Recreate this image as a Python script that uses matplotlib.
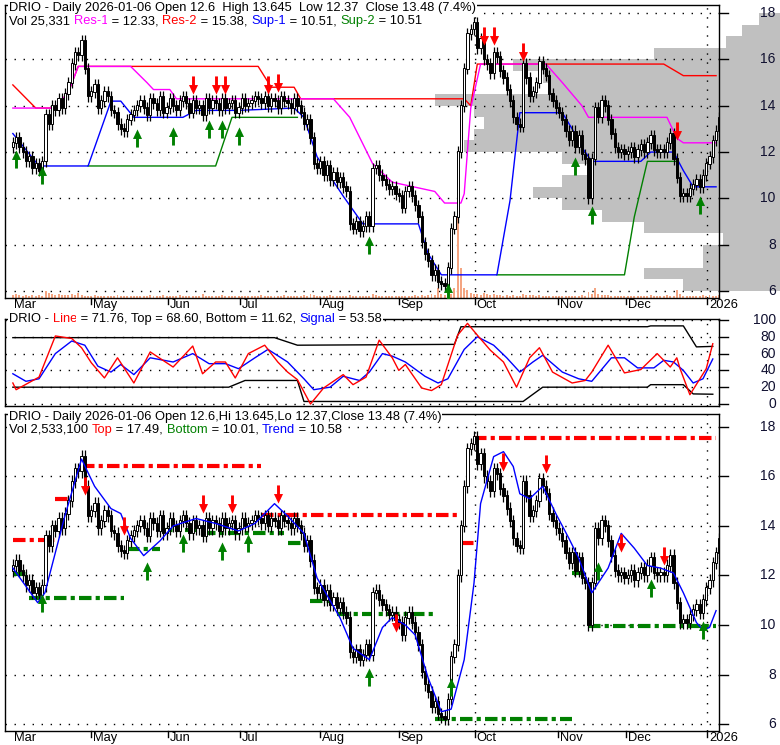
import numpy as np
import matplotlib
matplotlib.use("Agg")
import matplotlib.pyplot as plt
from matplotlib.path import Path

plt.rcParams['font.family'] = ['Liberation Sans', 'DejaVu Sans']

# ---------------- data ----------------
closes = [12.4,12.6,12.2,12.0,11.6,11.8,11.3,11.5,11.2,11.6,
          13.6,13.2,14.0,13.8,14.3,13.9,
          14.5,15.0,15.8,16.3,16.2,16.8,15.6,
          14.4,14.6,14.9,13.9,14.2,14.6,14.4,
          13.8,13.7,13.2,13.0,12.9,13.4,13.6,13.8,14.0,
          14.2,13.9,13.6,14.3,14.1,13.8,14.4,13.7,13.9,14.3,14.0,13.8,14.2,14.4,14.1,
          13.7,14.2,13.9,14.0,13.6,14.3,13.9,14.2,14.1,13.8,14.3,13.9,14.1,14.2,13.7,13.9,14.3,14.0,
          14.1,14.2,14.4,14.3,14.1,14.4,14.0,14.3,14.2,13.9,14.4,14.2,14.1,13.9,14.3,14.0,13.7,
          13.2,13.4,12.6,11.5,11.3,11.6,11.0,11.4,10.8,11.1,10.7,10.9,10.5,10.3,
          8.9,8.7,9.0,8.6,8.8,9.2,8.8,11.3,11.4,11.0,10.8,10.6,10.4,10.5,10.2,
          10.1,9.6,10.3,10.5,10.1,9.7,9.2,8.1,7.6,7.3,6.7,6.9,6.4,6.3,6.2,
          7.0,8.7,9.2,12.0,14.0,15.6,17.1,17.3,17.6,
          16.5,16.9,16.0,15.8,15.4,16.3,16.1,15.5,15.2,14.7,14.2,13.5,13.2,13.1,
          15.8,15.2,14.4,14.6,15.0,15.9,15.6,15.3,14.5,14.2,13.9,13.7,13.4,12.9,
          12.5,12.9,12.2,12.7,11.9,11.7,10.0,11.7,13.9,13.5,14.2,14.0,
          13.4,12.8,12.2,12.0,12.1,11.9,12.0,12.2,11.8,12.1,12.3,12.0,12.4,12.7,12.1,12.0,12.1,12.0,
          12.4,12.8,11.7,10.9,10.1,10.2,10.1,10.4,10.6,10.8,10.5,11.0,11.5,11.8,12.5,12.9,13.48]
first_open = 12.2

volumes = [3,4,3,2,3,2,3,2,3,2,
           7,5,4,3,4,3,
           3,3,4,3,5,3,2,
           2,2,3,2,2,2,2,
           2,2,3,2,2,2,2,2,2,
           2,2,2,3,2,2,2,3,2,2,2,2,3,2,2,
           2,2,2,2,4,2,2,2,2,2,3,2,2,2,2,2,2,2,
           2,2,2,2,3,2,2,2,2,2,2,3,2,2,2,2,2,
           3,2,4,3,2,2,2,2,3,2,2,2,2,2,
           3,2,2,2,2,2,2,4,3,2,2,2,2,2,2,
           2,2,2,2,2,3,2,3,2,3,4,3,10,4,3,
           15,4,10,80,30,10,8,5,4,
           4,3,5,4,3,4,3,3,2,3,2,3,2,2,
           4,3,3,3,2,3,2,2,2,2,2,2,2,2,
           2,2,2,2,3,2,6,4,10,4,3,3,
           3,2,2,2,2,2,2,2,2,2,2,2,2,3,2,2,2,2,
           3,2,2,8,4,2,2,2,2,2,2,3,2,3,2,2,3]

res1_x = [0,13,17,20,36,41,43,48,50,98,103,110,116,129,132,137,138,140,143,163,168,174,176,200,203,205,215]
res1_y = [13.9,13.9,14.6,15.7,15.7,15.0,14.7,14.7,14.3,14.3,13.5,11.5,10.7,10.3,9.8,9.8,10.2,13.9,15.8,15.8,15.0,14.0,13.5,13.5,12.6,12.4,12.4]
res2_x = [0,7,13,17,20,75,79,86,88,138,140,142,199,205,215]
res2_y = [14.9,13.9,13.9,14.6,15.7,15.7,14.8,14.8,14.3,14.3,14.0,15.8,15.8,15.3,15.3]
sup1_x = [0,8,23,30,33,37,52,56,67,69,86,89,93,101,107,124,127,131,148,152,155,168,171,174,177,192,195,202,205,208,215]
sup1_y = [12.8,11.4,11.4,14.2,14.2,13.5,13.5,13.8,13.8,13.8,13.9,13.5,11.8,10.1,8.9,8.9,7.6,6.7,6.7,9.9,13.7,13.7,13.0,12.2,11.6,11.6,12.0,12.0,11.2,10.5,10.5]
sup2_x = [23,62,67,87]
sup2_y = [11.4,11.4,13.5,13.5]
sup2b_x = [148,187,190,194,203]
sup2b_y = [6.7,6.7,9.2,11.6,11.6]

prof_price = [17.75,17.25,16.75,16.25,15.75,15.25,14.75,14.25,13.75,13.25,12.75,12.25,
              11.75,11.25,10.75,10.25,9.75,9.25,8.75,8.25,7.75,7.25,6.75,6.25]
prof_left = [228,223,218,196,153,162,164,129,141,144,141,138,
             168,177,168,159,168,180,193,217,211,211,193,205]

top_red_arrows = [(55,14.9),(62,14.9),(65,14.9),(78,14.9),(81,15.0),(144,17.0),(147,17.0),(156,16.3),(203,12.9)]
top_green_arrows = [(1,11.7),(9,11.0),(38,12.6),(49,12.7),(60,13.0),(64,13.0),(69,12.7),(109,8.0),(133,5.95),(172,11.4),(177,9.3),(210,9.7)]

osc_line_x = [0,1,8,13,18,21,24,28,32,37,42,49,55,58,62,65,68,72,77,81,84,87,91,95,101,104,108,112,116,118,120,125,128,131,136,139,142,146,150,154,158,161,165,171,175,177,182,187,192,197,201,203,204,207,212,214]
osc_line_y = [25,17,32,81,78,67,49,31,55,25,62,44,69,36,50,50,31,60,70,50,38,29,0,19,35,23,32,76,55,40,47,19,16,23,82,96,82,64,50,20,55,67,38,25,28,38,70,37,41,60,44,55,42,11,42,71.76]
osc_sig_x = [0,4,8,13,18,22,26,30,33,37,42,49,55,60,65,69,74,78,84,89,92,97,101,106,109,113,116,120,126,130,133,138,142,147,151,155,159,162,168,173,177,183,187,191,196,199,202,205,208,211,214]
osc_sig_y = [36,27,30,60,75,70,45,38,47,35,55,50,60,48,48,42,55,65,50,30,17,20,33,28,38,60,57,50,33,25,30,65,80,70,55,38,50,58,38,30,27,55,55,43,43,52,50,40,25,30,53.58]
band_top_x = [0,80,87,135,137,194,195,205,209,214]
band_top_y = [79,79,70,71,92,92,93,93,68,68.6]
band_bot_x = [0,66,71,87,89,156,162,194,195,205,208,214]
band_bot_y = [20,20,28,28,3,3,20,20,23,23,12,11.62]

trend_x = [0,7.6,9.8,15.9,21,25,30,33,36,40,45,49,56,62,69,74,80,84,89,93,100,104,109,113,116,120,123,127,131,134,138,141,143,147,150,153,155,158,162,166,170,173,177,182,186,190,194,198,202,205,209,211,213,215]
trend_y = [12.3,10.9,11.3,14.4,16.7,15.6,14.7,14.5,13.5,12.8,13.4,14.0,14.3,14.1,13.8,14.1,14.9,14.4,13.7,11.9,10.3,9.06,8.6,9.9,10.3,10.0,9.6,7.85,6.5,6.6,8.6,11.7,14.9,16.8,17.0,16.4,15.3,15.1,15.6,14.5,13.5,12.7,11.3,12.3,13.7,13.1,12.4,12.3,12.1,11.3,10.1,9.8,9.9,10.58]
top_segs = [(0,13,13.45),(13,18,15.1),(21,76,16.43),(76,137,14.46),(137,141,13.3),(141,215,17.55)]
bot_segs = [(0,5,12.05),(5,34,11.1),(35,45,13.05),(45,56,13.85),(58,83,13.73),(84,91,13.3),(91,99,10.95),
            (99,129,10.43),(129,171,6.2),(171,176,12.1),(176,215,9.95)]
bot_red_arrows = [(22,15.6),(34,14.0),(58,14.9),(67,14.9),(81,15.3),(117,10.1),(150,16.6),(163,16.5),(186,13.3),(199,12.8)]
bot_green_arrows = [(9,10.9),(41,12.2),(52,13.3),(64,13.0),(72,13.3),(109,7.9),(134,7.5),(179,12.2),(195,11.5),(211,9.8)]

month_labels = ['Mar','May','Jun','Jul','Aug','Sep','Oct','Nov','Dec','2026']
month_pos = [0,23.8,47.3,69.5,93.9,118,141.2,166.8,187.5,212.2]

# ---------------- figure ----------------
W, H = 780, 745
fig = plt.figure(figsize=(W/100, H/100), dpi=100)
def rect(l, t, r, b):
    return [l/W, 1-b/H, (r-l)/W, (b-t)/H]

ax1 = fig.add_axes(rect(5, 5, 719, 298))
ax2 = fig.add_axes(rect(5, 319, 719, 406))
ax3 = fig.add_axes(rect(5, 414, 719, 731))

XL = (-2.4, 215.9)
FS = 9.3
n = len(closes)
xs = np.arange(n)
opens = [first_open] + closes[:-1]

def candles(ax):
    c = np.array(closes); o = np.array(opens)
    top = np.maximum(c, o); bot = np.minimum(c, o)
    ax.vlines(xs, bot - 0.25, top + 0.25, color='black', lw=0.9, zorder=3)
    up = c >= o
    ax.bar(xs[up], (top-bot)[up] + 0.03, bottom=bot[up], width=0.7, facecolor='white', edgecolor='black', lw=0.7, zorder=4)
    ax.bar(xs[~up], (top-bot)[~up] + 0.03, bottom=bot[~up], width=0.7, facecolor='black', edgecolor='black', lw=0.7, zorder=4)

down_path = Path([(-0.16,1),(0.16,1),(0.16,0.05),(0.5,0.05),(0,-1),(-0.5,0.05),(-0.16,0.05),(-0.16,1)])
up_path = Path([(x, -y) for x, y in down_path.vertices])

def arrows(ax, pts, color, path):
    ax.scatter([p[0] for p in pts], [p[1] for p in pts], marker=path, s=170, color=color, zorder=6, linewidths=0)

def style(ax, ylim, yticks, labels):
    ax.set_xlim(*XL); ax.set_ylim(*ylim)
    ax.set_xticks([]); ax.set_yticks([])
    for s in ax.spines.values():
        s.set_linewidth(1.0)
    for v, lab in zip(yticks, labels):
        ax.plot([XL[0], XL[1]], [v, v], ls=(0, (1, 5.5)), color='black', lw=1.0, zorder=1)
        ax.plot([1.0, 1.012], [v, v], transform=ax.get_yaxis_transform(), color='black', lw=1, clip_on=False)
        ax.text(1.0795, v, lab, transform=ax.get_yaxis_transform(), ha='right', va='center', fontsize=10, color='#101030')
    for mp in [141.2, 212.2]:
        ax.axvline(mp, ls=(0, (1, 5.5)), color='black', lw=1.0, zorder=1)

def xticks(ax, ypix):
    for lab, p in zip(month_labels, month_pos):
        if lab != 'Mar':
            ax.plot([p, p], [0, -0.02], transform=ax.get_xaxis_transform(), color='black', lw=1, clip_on=False)
        ax.annotate(lab, (p, 0), xycoords=ax.get_xaxis_transform(), xytext=(2 if lab != 'Mar' else 1, -ypix),
                    textcoords='offset pixels', ha='left', va='top', fontsize=FS)

# --- top panel ---
style(ax1, (5.70, 18.35), [6,8,10,12,14,16,18], ['6','8','10','12','14','16','18'])
pl = np.array(prof_left, float)
ax1.barh(prof_price, 235.5 - pl, left=pl, height=0.5, color='#c0c0c0', zorder=0.5, clip_on=False, lw=0)
vb = np.array(volumes[:n], float) / 23.17
ax1.bar(xs[:len(vb)], vb, bottom=5.70, width=0.6, color='#f4a582', zorder=2)
ax1.plot(res2_x, res2_y, color='red', lw=1, zorder=2.5)
ax1.plot(res1_x, res1_y, color='magenta', lw=1, zorder=2.6)
ax1.plot(sup2_x, sup2_y, color='green', lw=1, zorder=2.5)
ax1.plot(sup2b_x, sup2b_y, color='green', lw=1, zorder=2.5)
ax1.plot(sup1_x, sup1_y, color='blue', lw=1, zorder=2.6)
candles(ax1)
arrows(ax1, top_red_arrows, 'red', down_path)
arrows(ax1, top_green_arrows, 'green', up_path)
xticks(ax1, 1)

# --- middle panel ---
style(ax2, (-2.4, 101.2), [0,20,40,60,80,100], ['0','20','40','60','80','100'])
ax2.plot(band_top_x, band_top_y, color='black', lw=1)
ax2.plot(band_bot_x, band_bot_y, color='black', lw=1)
ax2.plot(osc_sig_x, osc_sig_y, color='blue', lw=1)
ax2.plot(osc_line_x, osc_line_y, color='red', lw=1)

# --- bottom panel ---
style(ax3, (5.72, 18.52), [6,8,10,12,14,16,18], ['6','8','10','12','14','16','18'])
for a, b, v in top_segs:
    ax3.plot([a, b], [v, v], color='red', lw=3, ls=(0, (3, 1, 1, 1)), zorder=2)
for a, b, v in bot_segs:
    ax3.plot([a, b], [v, v], color='green', lw=3, ls=(0, (3, 1, 1, 1)), zorder=2)
ax3.plot(trend_x, trend_y, color='blue', lw=1, zorder=5)
candles(ax3)
arrows(ax3, bot_red_arrows, 'red', down_path)
arrows(ax3, bot_green_arrows, 'green', up_path)
xticks(ax3, 1)

# --- titles ---
fig.canvas.draw()
r = fig.canvas.get_renderer()
def ctext(x, y, parts, fs=FS):
    cx = x
    for s, col in parts:
        t = fig.text(cx / W, 1 - y / H, s, color=col, fontsize=fs, ha='left', va='top',
                     bbox=dict(facecolor='white', edgecolor='none', pad=0.6), zorder=20)
        bb = t.get_window_extent(renderer=r)
        cx += bb.width

ctext(9, 2, [('DRIO - Daily 2026-01-06 Open 12.6  High 13.645  Low 12.37  Close 13.48 (7.4%)', 'black')])
ctext(9, 15, [('Vol 25,331 ', 'black'), ('Res-1', 'magenta'), (' = 12.33, ', 'black'), ('Res-2', 'red'),
              (' = 15.38, ', 'black'), ('Sup-1', 'blue'), (' = 10.51, ', 'black'), ('Sup-2', 'green'), (' = 10.51', 'black')])
ctext(9, 313, [('DRIO - ', 'black'), ('Line', 'red'), (' = 71.76, Top = 68.60, Bottom = 11.62, ', 'black'),
               ('Signal', 'blue'), (' = 53.58', 'black')])
ctext(9, 411, [('DRIO - Daily 2026-01-06 Open 12.6,Hi 13.645,Lo 12.37,Close 13.48 (7.4%)', 'black')])
ctext(9, 424, [('Vol 2,533,100 ', 'black'), ('Top', 'red'), (' = 17.49, ', 'black'), ('Bottom', 'green'),
               (' = 10.01, ', 'black'), ('Trend', 'blue'), (' = 10.58', 'black')])

fig.savefig('out.png', dpi=100, facecolor='white')
